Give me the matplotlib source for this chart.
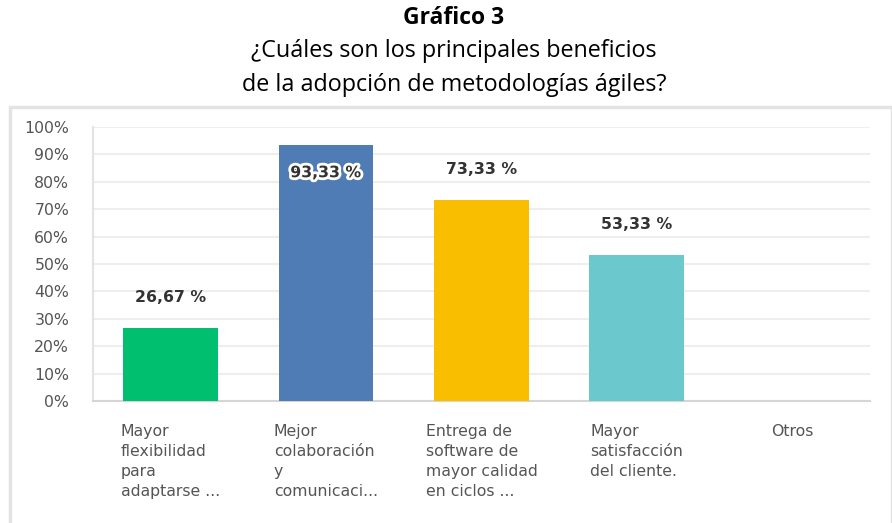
import numpy as np
import matplotlib.pyplot as plt
import matplotlib.patheffects as pe
from matplotlib.patches import Rectangle

# DATA
categories = ["Mayor\nflexibilidad\npara\nadaptarse ...",
              "Mejor\ncolaboración\ny\ncomunicaci...",
              "Entrega de\nsoftware de\nmayor calidad\nen ciclos ...",
              "Mayor\nsatisfacción\ndel cliente.",
              "Otros"]
values = [26.67, 93.33, 73.33, 53.33, 0]
colors = ["#00BF6F", "#507CB6", "#F9BE00", "#6BC8CD", "#999999"]
yticks = [0, 10, 20, 30, 40, 50, 60, 70, 80, 90, 100]

W, H = 892, 523
fig = plt.figure(figsize=(W / 100, H / 100), dpi=100)

# outer panel border (runs off the bottom edge)
fig.patches.append(Rectangle((10 / W, -0.05), (W - 10) / W, (H - 107) / H + 0.05,
                             transform=fig.transFigure, fill=False,
                             edgecolor="#e3e3e3", linewidth=2.5))

# titles
tf = "Open Sans"
cx = 454 / W
fig.text(cx, 1 - 18 / H, "Gráfico 3", ha="center", va="center",
         fontsize=16.5, fontweight="bold", family=tf)
fig.text(cx, 1 - 51 / H, "¿Cuáles son los principales beneficios",
         ha="center", va="center", fontsize=16.8, family=tf)
fig.text(cx, 1 - 85 / H, "de la adopción de metodologías ágiles?",
         ha="center", va="center", fontsize=16.8, family=tf)

# plot area
left, right = 92.75, 870
top, bottom = 127, 401
ax = fig.add_axes([left / W, 1 - bottom / H, (right - left) / W, (bottom - top) / H])

lf = "DejaVu Sans"
x = np.arange(len(categories))
ax.bar(x, values, width=0.61, color=colors, zorder=3)
ax.set_xlim(-0.5, len(categories) - 0.5)
ax.set_ylim(0, 100)
ax.set_yticks(yticks)
ax.set_yticklabels([f"{v}%" for v in yticks], fontsize=11.3, color="#555555", family=lf)
ax.tick_params(axis="y", length=0, pad=17)
ax.tick_params(axis="x", length=0)
ax.set_xticks([])
ax.grid(axis="y", color="#eeeeee", linewidth=1.5, zorder=0)
for s in ["top", "right"]:
    ax.spines[s].set_visible(False)
ax.spines["left"].set_color("#e3e3e3")
ax.spines["left"].set_linewidth(1.5)
ax.spines["bottom"].set_color("#d5d5d5")
ax.spines["bottom"].set_linewidth(1.5)

# value labels
for i, v in enumerate(values):
    if v == 0:
        continue
    lbl = f"{v:.2f} %".replace(".", ",")
    if v > 85:
        t = ax.text(i, v - 10, lbl, ha="center", va="center",
                    fontsize=11.3, fontweight="bold", color="#333333", family=lf, zorder=5)
        t.set_path_effects([pe.withStroke(linewidth=4, foreground="white")])
    else:
        ax.text(i, v + 11, lbl, ha="center", va="center",
                fontsize=11.3, fontweight="bold", color="#333333", family=lf, zorder=5)

# category labels
for i, c in enumerate(categories):
    ax.text(i, -8.3, c, ha="center", va="top", multialignment="left", fontsize=11.3,
            color="#555555", family=lf, linespacing=1.42, clip_on=False)

fig.savefig("out.png", dpi=100)
